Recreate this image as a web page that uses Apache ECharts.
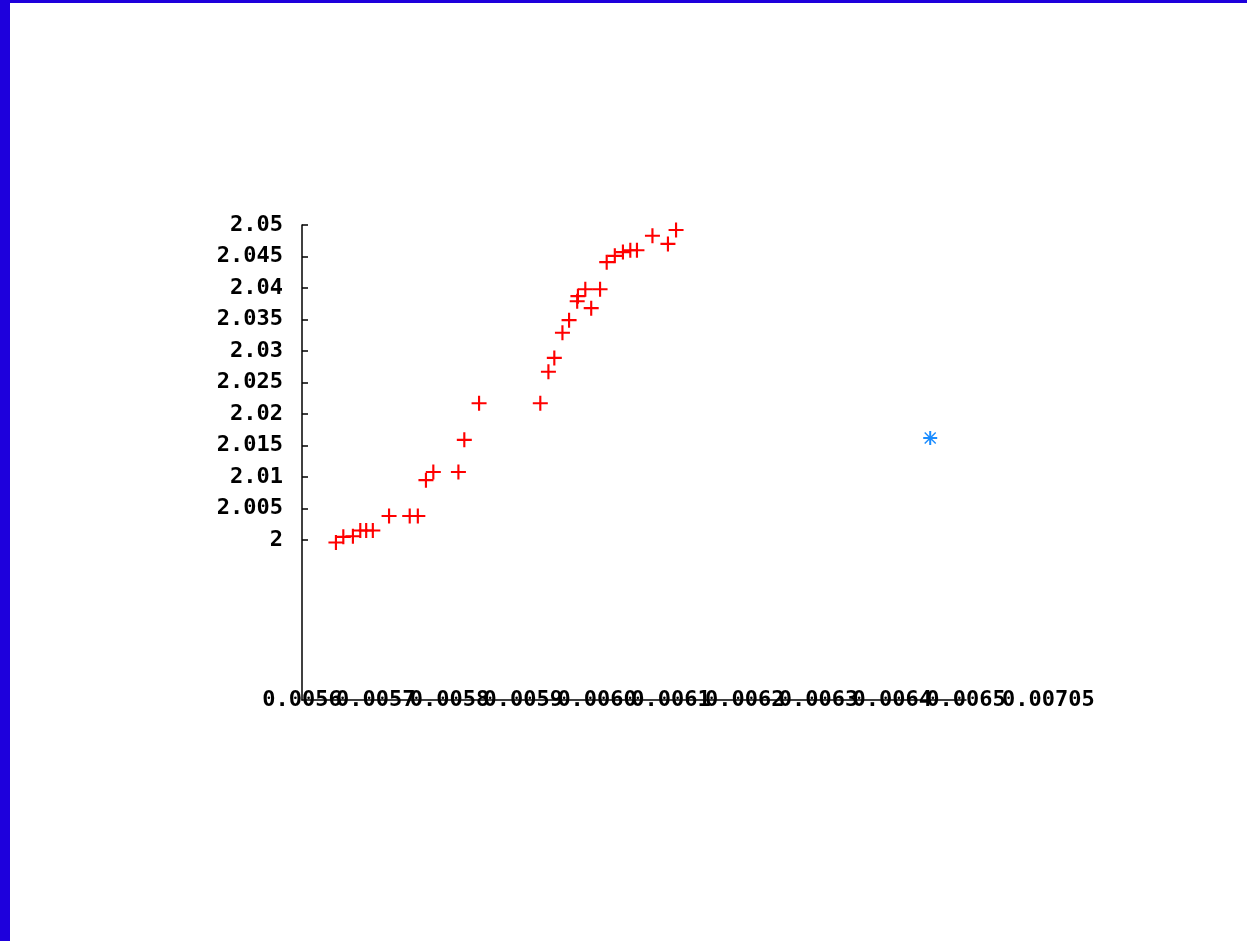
<!DOCTYPE html>
<html>
<head>
<meta charset="utf-8">
<script src="https://cdn.jsdelivr.net/npm/echarts@6/dist/echarts.min.js"></script>
<style>
  html, body { margin: 0; padding: 0; background: #ffffff; }
  #frame {
    width: 1247px; height: 941px; box-sizing: border-box;
    border-left: 10px solid #1e00dc; border-top: 3px solid #1e00dc;
    background: #ffffff;
  }
  #chart { width: 1237px; height: 938px; }
</style>
</head>
<body>
<div id="frame"><div id="chart"></div></div>
<script>
// Measured series (x, y)
const seriesAX = [0.005646, 0.005656, 0.005669, 0.005679, 0.005687, 0.005696,
  0.005718, 0.005746, 0.005757, 0.005768, 0.005778, 0.005812, 0.005820,
  0.005840, 0.005923, 0.005934, 0.005942, 0.005953, 0.005962, 0.005973,
  0.005974, 0.005984, 0.005992, 0.006004, 0.006013, 0.006024, 0.006035,
  0.006045, 0.006054, 0.006075, 0.006096, 0.006107];
const seriesAY = [1.9996, 2.0005, 2.0006, 2.0015, 2.0015, 2.0015,
  2.0038, 2.0038, 2.0038, 2.0095, 2.0108, 2.0108, 2.0159,
  2.0217, 2.0217, 2.0267, 2.0289, 2.0329, 2.0349, 2.0379,
  2.0387, 2.0398, 2.0368, 2.0398, 2.0441, 2.0451, 2.0457,
  2.0460, 2.0460, 2.0483, 2.0470, 2.0492];
// Single highlighted point
const seriesBX = [0.0064515];
const seriesBY = [2.0162];

// Axis ticks
const xAxisMin = 0.0056;
const xAxisMax = 0.0065;
const xTickValues = [0.0056, 0.0057, 0.0058, 0.0059, 0.0060, 0.0061, 0.0062, 0.0063, 0.0064, 0.0065];
const yTickValues = [2, 2.005, 2.01, 2.015, 2.02, 2.025, 2.03, 2.035, 2.04, 2.045, 2.05];
const yAxisMin = 1.9746;
const yAxisMax = 2.05;
const xAxisName = '0.00705';

const pointsA = seriesAX.map((x, i) => [x, seriesAY[i]]);
const pointsB = seriesBX.map((x, i) => [x, seriesBY[i]]);

// The x labels are tightly packed; they are split over two stacked axes
// (even and odd ticks) so every one of them is drawn, overlapping as they fall.
const xEvenTicks = xTickValues.filter((_, i) => i % 2 === 0);
const xOddTicks = xTickValues.filter((_, i) => i % 2 === 1);

const plusPath = 'path://M6,0h2v6h6v2h-6v6h-2v-6h-6v-2h6z';
const starPath = 'path://M0,6h14v2h-14z M6,0h2v14h-2z M1,2L2,1L13,12L12,13z M12,1L13,2L2,13L1,12z';

const labelFont = {
  fontFamily: 'DejaVu Sans Mono',
  fontWeight: 'bold',
  fontSize: 22,
  color: '#000000'
};

function xAxisWith(ticks, withLine, name) {
  return {
    type: 'value',
    position: 'bottom',
    offset: 0,
    min: xAxisMin,
    max: xAxisMax,
    splitLine: { show: false },
    axisLine: { show: withLine, onZero: false, lineStyle: { color: '#000000', width: 1.5 } },
    axisTick: { show: false },
    axisLabel: Object.assign({
      margin: 0,
      verticalAlign: 'middle',
      customValues: ticks,
      showMinLabel: true,
      showMaxLabel: true,
      formatter: v => v.toFixed(4)
    }, labelFont),
    name: name,
    nameLocation: 'end',
    nameGap: 36,
    nameMoveOverlap: false,
    nameTextStyle: Object.assign({ verticalAlign: 'middle' }, labelFont)
  };
}

const chart = echarts.init(document.getElementById('chart'), null, { renderer: 'canvas' });
chart.setOption({
  animation: false,
  backgroundColor: '#ffffff',
  grid: { left: 292, top: 222, right: 281, bottom: 241, containLabel: false },
  xAxis: [
    xAxisWith(xEvenTicks, true, ''),
    xAxisWith(xOddTicks, false, xAxisName)
  ],
  yAxis: {
    type: 'value',
    min: yAxisMin,
    max: yAxisMax,
    splitLine: { show: false },
    axisLine: { show: true, onZero: false, lineStyle: { color: '#000000', width: 1.5 } },
    axisTick: {
      show: true, inside: true, length: 6,
      customValues: yTickValues,
      lineStyle: { color: '#000000', width: 1.5 }
    },
    axisLabel: Object.assign({
      margin: 19,
      customValues: yTickValues,
      formatter: v => String(parseFloat(v.toFixed(3)))
    }, labelFont)
  },
  series: [
    {
      type: 'scatter',
      data: pointsA,
      symbol: plusPath,
      symbolSize: 15,
      itemStyle: { color: '#ff0000', opacity: 1 },
      silent: true
    },
    {
      type: 'scatter',
      data: pointsB,
      symbol: starPath,
      symbolSize: 14,
      itemStyle: { color: '#1a8cff', opacity: 1 },
      silent: true
    }
  ]
});
</script>
</body>
</html>
